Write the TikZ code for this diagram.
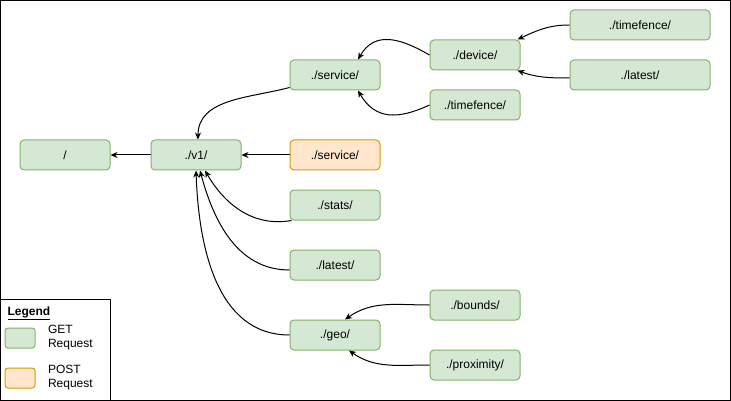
\documentclass[tikz,border=0pt]{standalone}
\usepackage{fontspec}
\setmainfont{Liberation Sans}
\usetikzlibrary{arrows.meta,positioning}
\definecolor{getfill}{HTML}{D5E8D4}
\definecolor{getline}{HTML}{82B366}
\definecolor{postfill}{HTML}{FFE6CC}
\definecolor{postline}{HTML}{D79B00}
\tikzset{
  getreq/.style={draw=getline, fill=getfill, rounded corners=4pt, line width=1pt,
    minimum width=90pt, minimum height=30pt, font=\fontsize{12}{14}\selectfont},
  postreq/.style={getreq, draw=postline, fill=postfill},
  keybox/.style={rounded corners=3pt, line width=1pt, minimum width=30pt, minimum height=20pt},
  keytext/.style={inner sep=0pt, align=left, font=\fontsize{12}{14}\selectfont},
}
\begin{document}
\begin{tikzpicture}[x=1pt, y=1pt, line width=1pt, >={Stealth[length=7pt,width=6pt]}]
\useasboundingbox (0,0) rectangle (731,-401);
\draw (0.5,-0.5) rectangle (730.5,-400.5);
\draw (0.5,-299.5) rectangle (110.5,-400.5);

\node[getreq] (root) at (65,-155) {/};
\node[getreq] (v1) at (196,-155) {./v1/};
\node[getreq] (svc) at (335,-75) {./service/};
\node[postreq] (post) at (335,-155) {./service/};
\node[getreq] (dev) at (475,-55) {./device/};
\node[getreq, minimum width=140pt] (tfa) at (640,-25) {./timefence/};
\node[getreq, minimum width=140pt] (lata) at (640,-75) {./latest/};
\node[getreq] (tfb) at (475,-105) {./timefence/};
\node[getreq] (stats) at (335,-205) {./stats/};
\node[getreq] (latb) at (335,-265) {./latest/};
\node[getreq] (geo) at (335,-335) {./geo/};
\node[getreq] (bnd) at (475,-305) {./bounds/};
\node[getreq] (prox) at (475,-365) {./proximity/};

% legend
\node[anchor=west, inner sep=0pt, font=\fontsize{12}{14}\selectfont] (legend) at (7,-313) {\underline{\textbf{Legend}}};
\node[keybox, draw=getline, fill=getfill] (keyget) at (20,-338) {};
\node[keytext, right=12pt of keyget] (keygettxt) {GET\\Request};
\node[keybox, draw=postline, fill=postfill] (keypost) at (20,-378) {};
\node[keytext, right=12pt of keypost] (keyposttxt) {POST\\Request};

\draw[->] (v1) -- (root);
\draw[->] (post) -- (v1);
\draw[->] ([yshift=3pt]svc.south west) to[out=195, in=90] ([xshift=2pt]v1.north);
\draw[->] (dev.west) to[out=150, in=60, looseness=1.2] ([xshift=23pt]svc.north);
\draw[->] (tfb.west) to[out=205, in=-60, looseness=1.2] ([xshift=23pt]svc.south);
\draw[->] (tfa.west) to[out=180, in=25] ([xshift=-3pt]dev.north east);
\draw[->] ([yshift=-3pt]lata.west) to[out=180, in=-20] ([xshift=-3pt]dev.south east);
\draw[->] ([xshift=2pt]stats.south west) to[out=190, in=-60] ([xshift=9pt]v1.south);
\draw[->] ([yshift=-5pt]latb.west) to[out=180, in=-75] ([xshift=4pt]v1.south);
\draw[->] (geo.west) to[out=180, in=-88] (v1.south);
\draw[->] (bnd.west) to[out=180, in=35] ([xshift=10pt]geo.north);
\draw[->] (prox.west) to[out=180, in=-35] ([xshift=14pt]geo.south);
\end{tikzpicture}
\end{document}
